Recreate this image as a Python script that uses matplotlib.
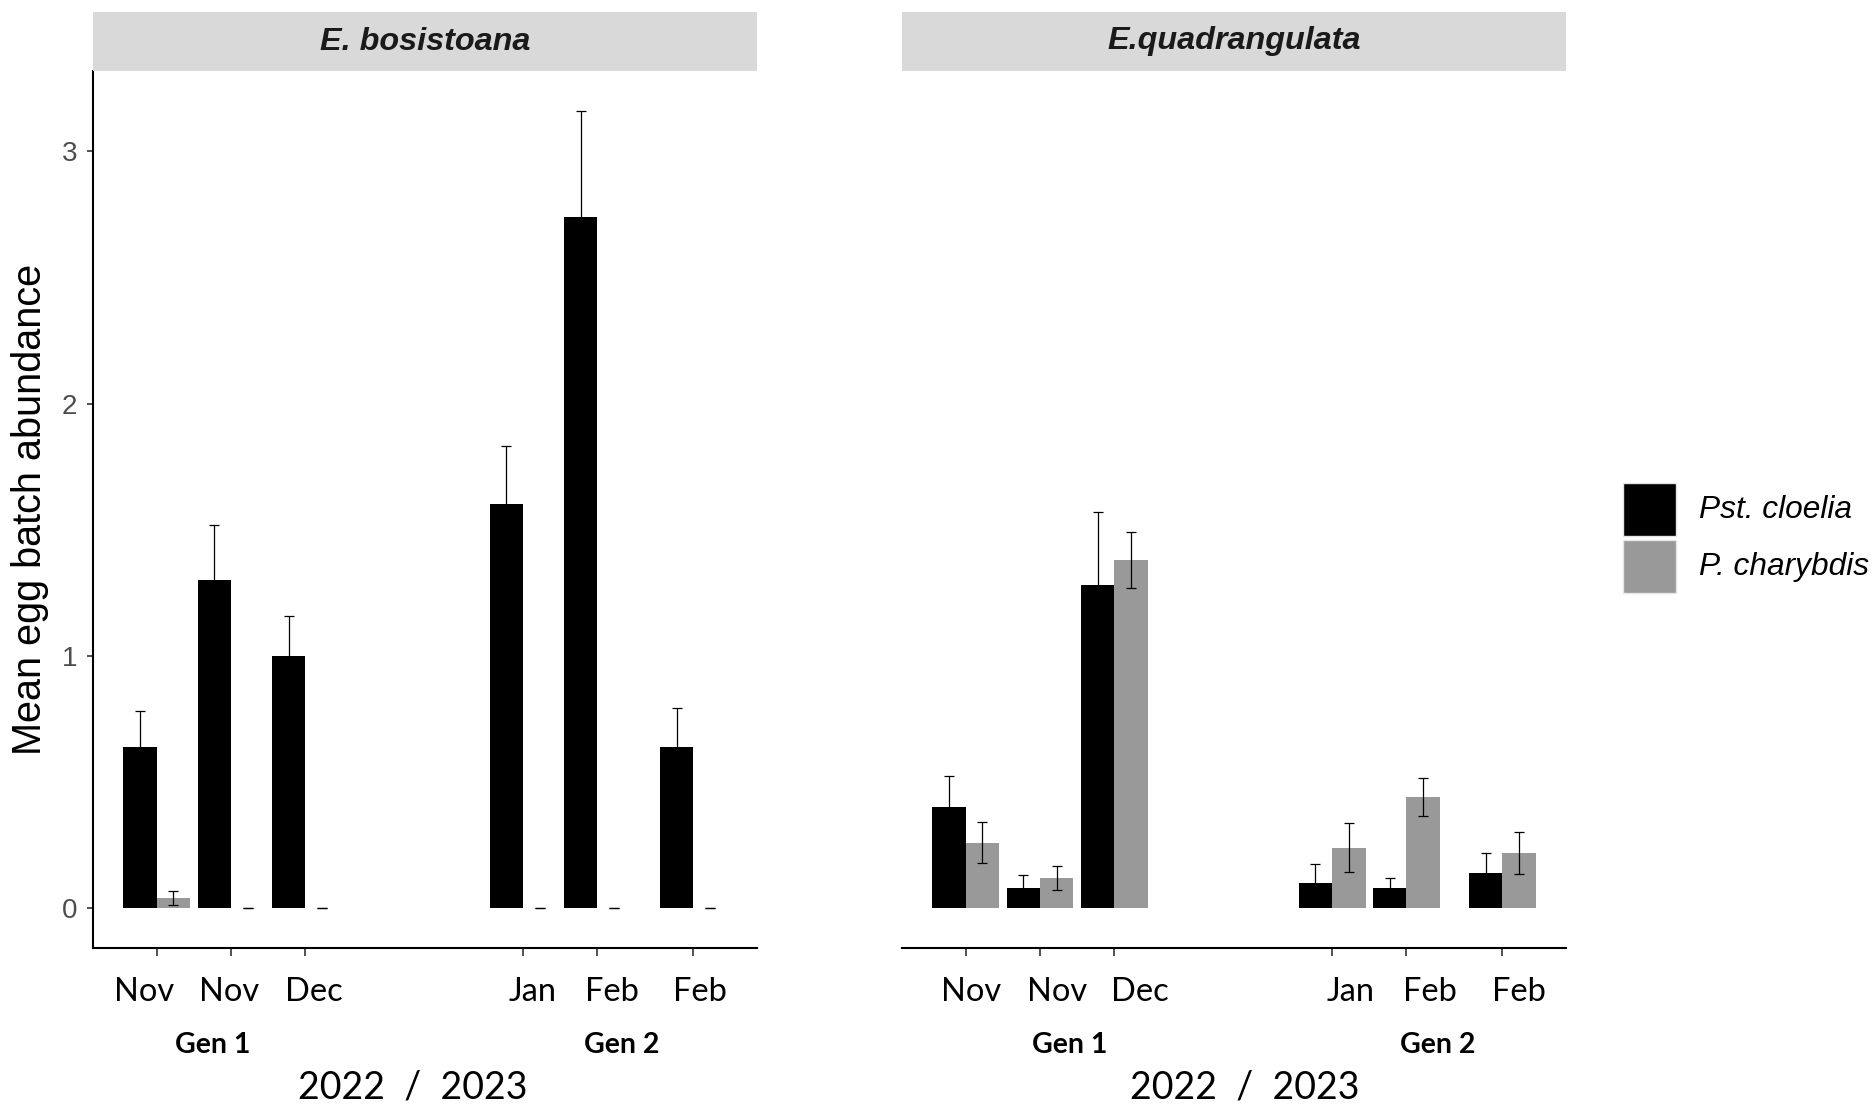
import numpy as np
import matplotlib
matplotlib.use('Agg')
import matplotlib.pyplot as plt
import matplotlib.transforms as mtransforms
from matplotlib.patches import Rectangle

plt.rcParams['font.family'] = ['Liberation Sans', 'DejaVu Sans']

# Sampling occasions (same for both host trees)
months = ['Nov', 'Nov', 'Dec', 'Jan', 'Feb', 'Feb']
generations = ['Gen 1', 'Gen 2']
season = '2022  /  2023'
hosts = ['E. bosistoana', 'E.quadrangulata']
species = ['Pst. cloelia', 'P. charybdis']

# Mean egg batch abundance and standard error, E. bosistoana
bos_cloelia_mean = [0.64, 1.30, 1.00, 1.60, 2.74, 0.64]
bos_cloelia_se = [0.14, 0.22, 0.157, 0.23, 0.42, 0.155]
bos_charybdis_mean = [0.04, 0.0, 0.0, 0.0, 0.0, 0.0]
bos_charybdis_se = [0.028, 0.0, 0.0, 0.0, 0.0, 0.0]

# Mean egg batch abundance and standard error, E. quadrangulata
quad_cloelia_mean = [0.40, 0.08, 1.28, 0.10, 0.08, 0.14]
quad_cloelia_se = [0.123, 0.05, 0.29, 0.074, 0.041, 0.077]
quad_charybdis_mean = [0.26, 0.12, 1.38, 0.24, 0.44, 0.22]
quad_charybdis_se = [0.08, 0.047, 0.11, 0.098, 0.076, 0.083]

# position of each sampling occasion along the season
x_pos = np.array([0, 1, 2, 4.93, 5.93, 7.22])

colors = ['#000000', '#999999']
bar_w = 0.45

panels = [
    (hosts[0], [(bos_cloelia_mean, bos_cloelia_se), (bos_charybdis_mean, bos_charybdis_se)]),
    (hosts[1], [(quad_cloelia_mean, quad_cloelia_se), (quad_charybdis_mean, quad_charybdis_se)]),
]

# label placement (x in season units, y in figure pixels from top)
month_x = [[-0.17, 0.98, 2.11, 5.06, 6.12, 7.31],
           [0.08, 1.23, 2.34, 5.18, 6.25, 7.44]]
gen_x = [[0.76, 6.25], [1.40, 6.35]]
season_x = [3.44, 3.75]

W, H = 1875, 1106
fig = plt.figure(figsize=(W / 100, H / 100), dpi=100)

# shared y scale with 5% expansion like ggplot
ymax = max(np.max(np.add(m, s)) for _, ser in panels for m, s in ser)
ylim = (-0.05 * ymax, 1.05 * ymax)
xmin, xmax = x_pos.min() - bar_w, x_pos.max() + bar_w
xpad = 0.05 * (xmax - xmin)
xlim = (xmin - xpad, xmax + xpad)

panel_left = [93, 902]
panel_w = 664
ax_top, ax_bot = 71, 948

for i, (host, series) in enumerate(panels):
    ax = fig.add_axes([panel_left[i] / W, 1 - ax_bot / H, panel_w / W, (ax_bot - ax_top) / H])
    for j, (mean, se) in enumerate(series):
        offs = x_pos + (j - 0.5) * bar_w
        ax.bar(offs, mean, width=bar_w, color=colors[j], linewidth=0, zorder=2)
        ax.errorbar(offs, mean, yerr=se, fmt='none', ecolor='#000000',
                    elinewidth=0.9, capsize=3.9, capthick=0.9, zorder=3)

    ax.set_xlim(xlim)
    ax.set_ylim(ylim)
    ax.set_xticks(x_pos)
    ax.set_xticklabels([])
    ax.tick_params(axis='x', length=5.5, width=1.2, color='#333333')
    for s in ['top', 'right']:
        ax.spines[s].set_visible(False)
    ax.spines['bottom'].set_linewidth(1.5)
    if i == 0:
        ax.spines['left'].set_linewidth(1.5)
        ax.set_yticks([0, 1, 2, 3])
        ax.tick_params(axis='y', length=4.5, width=1.2, color='#333333',
                       labelsize=20, labelcolor='#4D4D4D', pad=7)
    else:
        ax.spines['left'].set_visible(False)
        ax.set_yticks([])

    # facet strip
    strip = fig.add_axes([panel_left[i] / W, 1 - 71 / H, panel_w / W, 59 / H])
    strip.set_facecolor('#D9D9D9')
    strip.set_xticks([])
    strip.set_yticks([])
    for s in strip.spines.values():
        s.set_visible(False)
    strip.text(0.5, 0.5, host, ha='center', va='center', fontsize=23.3,
               fontweight='bold', fontstyle='italic', color='#1A1A1A',
               transform=strip.transAxes)

    # month, generation and season labels under the axis
    tr = mtransforms.blended_transform_factory(ax.transData, fig.transFigure)
    for xm, m in zip(month_x[i], months):
        ax.text(xm, 1 - 1001 / H, m, ha='center', va='baseline', fontsize=23.5,
                family='Lato', transform=tr)
    for xg, g in zip(gen_x[i], generations):
        ax.text(xg, 1 - 1053 / H, g, ha='center', va='baseline', fontsize=20.5,
                family='Lato', fontweight='bold', transform=tr)
    ax.text(season_x[i], 1 - 1099 / H, season, ha='center', va='baseline',
            fontsize=27, family='Lato', transform=tr)

fig.text(30 / W, 1 - 509 / H, 'Mean egg batch abundance', rotation=90,
         ha='center', va='center', fontsize=28.5)

# legend
key_top = [483, 540]
for k, (lab, c) in enumerate(zip(species, colors)):
    fig.add_artist(Rectangle((1623 / W, 1 - (key_top[k] + 53) / H), 53 / W, 53 / H,
                             transform=fig.transFigure, facecolor=c,
                             edgecolor='#E5E5E5', linewidth=1))
    fig.text(1699 / W, 1 - (key_top[k] + 27) / H, lab, ha='left', va='center',
             fontsize=22.8, fontstyle='italic')

fig.savefig('out.png', dpi=100)
